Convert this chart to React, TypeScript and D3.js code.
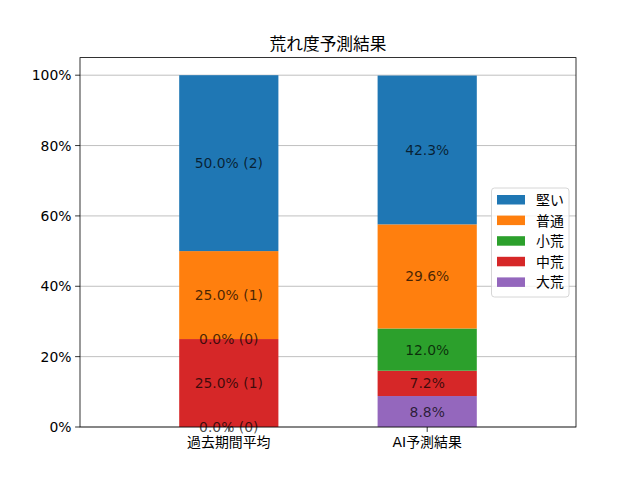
import React from "react";
import * as d3 from "d3";

// データ
const categories = ["過去期間平均", "AI予測結果"];
const levels = ["大荒", "中荒", "小荒", "普通", "堅い"]; // 下から積む順
const pastPct = [0, 25, 0, 25, 50];
const pastCount = [0, 1, 0, 1, 2];
const aiPct = [8.8, 7.2, 12.0, 29.6, 42.3];
const yTicks = [0, 20, 40, 60, 80, 100];
const colors = ["#9467bd", "#d62728", "#2ca02c", "#ff7f0e", "#1f77b4"];

const FONT = "'DejaVu Sans', 'Noto Sans CJK JP', sans-serif";

const App = () => {
  const width = 640;
  const height = 480;
  const margin = { top: 57.6, left: 80, bottom: 53, right: 64 };

  const rows = categories.map((c, i) => {
    const row: any = { cat: c };
    levels.forEach((k, j) => {
      row[k] = i === 0 ? pastPct[j] : aiPct[j];
    });
    return row;
  });

  const stack = d3.stack().keys(levels);
  // @ts-ignore
  const series = stack(rows);

  const x = d3
    .scaleLinear()
    .domain([-0.75, 1.75])
    .range([margin.left, width - margin.right]);

  const y = d3
    .scaleLinear()
    .domain([0, 105])
    .range([height - margin.bottom, margin.top]);

  const barW = x(0.5) - x(0);

  const label = (ci: number, li: number) =>
    ci === 0
      ? `${pastPct[li].toFixed(1)}% (${pastCount[li]})`
      : `${aiPct[li].toFixed(1)}%`;

  const legendItems = levels.map((k, i) => ({ k, c: colors[i] })).reverse();

  return (
    <svg
      width={width}
      height={height}
      style={{ position: "absolute", left: 0, top: 0, fontFamily: FONT }}
    >
      <rect width={width} height={height} fill="white" />
      {/* グリッド */}
      {yTicks.map((t) => (
        <line
          key={"g" + t}
          x1={margin.left}
          x2={width - margin.right}
          y1={y(t)}
          y2={y(t)}
          stroke="#b0b0b0"
          strokeWidth={0.8}
        />
      ))}
      {/* 積み上げ棒 */}
      {series.map((s, li) =>
        s.map((d, ci) => (
          <rect
            key={`b${li}-${ci}`}
            x={x(ci) - barW / 2}
            y={y(d[1])}
            width={barW}
            height={Math.max(0, y(d[0]) - y(d[1]))}
            fill={colors[li]}
          />
        ))
      )}
      {/* ラベル */}
      {series.map((s, li) =>
        s.map((d, ci) => (
          <text
            key={`t${li}-${ci}`}
            x={x(ci)}
            y={y((d[0] + d[1]) / 2)}
            textAnchor="middle"
            dominantBaseline="central"
            fontSize={13.9}
            fill="black"
            fillOpacity={0.72}
          >
            {label(ci, li)}
          </text>
        ))
      )}
      {/* 枠 */}
      <rect
        x={margin.left}
        y={margin.top}
        width={width - margin.left - margin.right}
        height={height - margin.top - margin.bottom}
        fill="none"
        stroke="black"
        strokeWidth={0.8}
      />
      {/* y軸 */}
      {yTicks.map((t) => (
        <g key={"y" + t}>
          <line
            x1={margin.left - 4.9}
            x2={margin.left}
            y1={y(t)}
            y2={y(t)}
            stroke="black"
            strokeWidth={0.8}
          />
          <text
            x={margin.left - 8.5}
            y={y(t)}
            textAnchor="end"
            dominantBaseline="central"
            fontSize={13.9}
          >
            {t}%
          </text>
        </g>
      ))}
      {/* x軸 */}
      {categories.map((c, i) => (
        <g key={"x" + i}>
          <line
            x1={x(i)}
            x2={x(i)}
            y1={height - margin.bottom}
            y2={height - margin.bottom + 4.9}
            stroke="black"
            strokeWidth={0.8}
          />
          <text
            x={x(i)}
            y={height - margin.bottom + 15}
            textAnchor="middle"
            dominantBaseline="central"
            fontSize={13.9}
          >
            {c}
          </text>
        </g>
      ))}
      {/* タイトル */}
      <text
        x={(margin.left + width - margin.right) / 2}
        y={44}
        textAnchor="middle"
        dominantBaseline="central"
        fontSize={16.7}
      >
        荒れ度予測結果
      </text>
      {/* 凡例 */}
      <g>
        <rect
          x={491.5}
          y={188}
          width={77.5}
          height={109}
          rx={3}
          fill="white"
          fillOpacity={0.8}
          stroke="#cccccc"
          strokeWidth={0.8}
        />
        {legendItems.map((it, i) => (
          <g key={it.k} transform={`translate(497, ${200 + i * 20.6})`}>
            <rect x={0} y={-5} width={28} height={9.5} fill={it.c} />
            <text x={39} y={0} dominantBaseline="central" fontSize={13.9}>
              {it.k}
            </text>
          </g>
        ))}
      </g>
    </svg>
  );
};

export default App;
